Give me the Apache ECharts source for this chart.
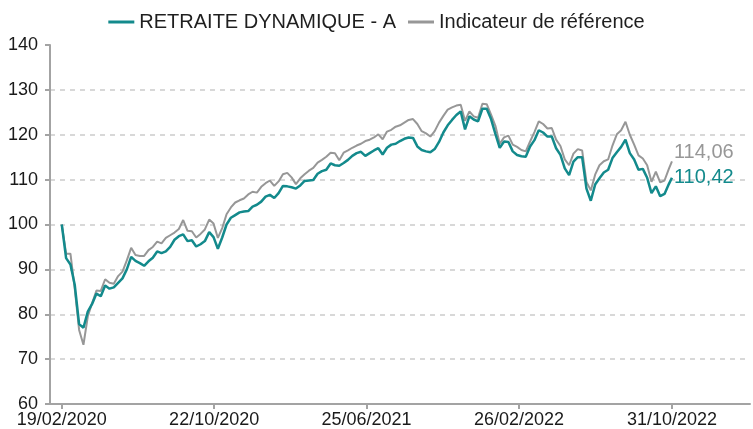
<!DOCTYPE html>
<html><head><meta charset="utf-8">
<script src="https://cdn.jsdelivr.net/npm/echarts@6/dist/echarts.min.js"></script>
<style>html,body{margin:0;padding:0;background:#fff}#c{width:753px;height:429px}</style>
</head><body><div id="c"></div>
<script>
const dates = [
'2020-02-19','2020-02-26','2020-03-04','2020-03-11','2020-03-18','2020-03-25','2020-04-01','2020-04-08','2020-04-15','2020-04-22',
'2020-04-29','2020-05-06','2020-05-13','2020-05-20','2020-05-27','2020-06-03','2020-06-10','2020-06-17','2020-06-24','2020-07-01',
'2020-07-08','2020-07-15','2020-07-22','2020-07-29','2020-08-05','2020-08-12','2020-08-19','2020-08-26','2020-09-02','2020-09-09',
'2020-09-16','2020-09-23','2020-09-30','2020-10-07','2020-10-14','2020-10-21','2020-10-28','2020-11-04','2020-11-11','2020-11-18',
'2020-11-25','2020-12-02','2020-12-09','2020-12-16','2020-12-23','2020-12-30',
'2021-01-06','2021-01-13','2021-01-20','2021-01-27','2021-02-03','2021-02-10','2021-02-17','2021-02-24','2021-03-03','2021-03-10',
'2021-03-17','2021-03-24','2021-03-31','2021-04-07','2021-04-14','2021-04-21','2021-04-28','2021-05-05','2021-05-12','2021-05-19',
'2021-05-26','2021-06-02','2021-06-09','2021-06-16','2021-06-23','2021-06-30','2021-07-07','2021-07-14','2021-07-21','2021-07-28',
'2021-08-04','2021-08-11','2021-08-18','2021-08-25','2021-09-01','2021-09-08','2021-09-15','2021-09-22','2021-09-29','2021-10-06',
'2021-10-13','2021-10-20','2021-10-27','2021-11-03','2021-11-10','2021-11-17','2021-11-24','2021-12-01','2021-12-08','2021-12-15',
'2021-12-22','2021-12-29',
'2022-01-05','2022-01-12','2022-01-19','2022-01-26','2022-02-02','2022-02-09','2022-02-16','2022-02-23','2022-03-02','2022-03-09',
'2022-03-16','2022-03-23','2022-03-30','2022-04-06','2022-04-13','2022-04-20','2022-04-27','2022-05-04','2022-05-11','2022-05-18',
'2022-05-25','2022-06-01','2022-06-08','2022-06-15','2022-06-22','2022-06-29','2022-07-06','2022-07-13','2022-07-20','2022-07-27',
'2022-08-03','2022-08-10','2022-08-17','2022-08-24','2022-08-31','2022-09-07','2022-09-14','2022-09-21','2022-09-28','2022-10-05',
'2022-10-12','2022-10-19','2022-10-26','2022-10-31'
];
const fundValues = [
100, 92.5, 91.1, 86.5, 77.8, 77.0, 80.6, 82.3, 84.6, 84.0, 86.4, 85.7, 86.0, 87.0, 88.0, 90.0, 92.8, 91.9, 91.4, 90.8,
91.8, 92.6, 94.0, 93.6, 94.0, 95.0,
96.6, 97.4, 97.8, 96.3, 96.5, 95.1, 95.6, 96.3, 98.3, 97.2, 94.6, 97.1, 100.0, 101.5, 102.1, 102.7, 102.9, 103.0, 104.0, 104.4,
105.1, 106.2, 106.6, 105.9, 107.0, 108.6, 108.5, 108.3, 108.0, 108.7,
109.7, 109.8, 109.9, 111.3, 111.9, 112.2, 113.6, 113.2, 113.1, 113.7, 114.4, 115.3, 115.9, 116.2, 115.3, 115.9, 116.5, 117.0,
115.6, 117.1, 117.8, 118.0, 118.6, 119.1, 119.4, 119.3, 117.4,
116.6, 116.3, 116.1, 116.8, 118.4, 120.5, 122.1, 123.3, 124.4, 125.2, 121.2, 124.1, 123.4, 123.0, 125.8, 125.8, 123.5, 120.2,
117.1, 118.5, 118.4, 116.3, 115.5, 115.2, 115.1, 117.4, 118.8, 121.0, 120.5, 119.6, 119.6, 117.0,
115.5, 112.5, 111.0, 114.0, 115.0, 115.0, 108.0, 105.3, 108.9, 110.3, 111.6, 112.2, 114.8, 116.1, 117.3, 118.9, 115.9, 114.5,
112.2, 112.4, 110.4, 107.0, 108.5, 106.3, 106.8, 109.0, 110.42
];
const benchValues = [
100, 93.5, 93.5, 85.6, 76.5, 73.2, 79.5, 82.5, 85.3, 85.2, 87.8, 87.0, 86.8, 88.5, 89.5, 92.0, 94.8, 93.2, 93.0, 93.0,
94.3, 95.0, 96.2, 95.8, 97.0, 97.6,
98.2, 99.0, 101.0, 98.6, 98.5, 97.1, 97.9, 98.9, 101.1, 100.2, 97.0, 99.2, 102.3, 103.8, 104.9, 105.4, 105.8, 106.7, 107.3, 107.1,
108.4, 109.2, 109.8, 108.6, 109.6, 111.2, 111.5, 110.5, 109.0, 110.3,
111.2, 112.0, 112.6, 113.8, 114.4, 115.1, 116.0, 115.9, 114.3, 116.0, 116.5, 117.1, 117.6, 118.0, 118.6, 118.9, 119.4, 120.1,
119.0, 120.7, 121.1, 121.8, 122.1, 122.7, 123.3, 123.5, 122.4,
120.8, 120.3, 119.6, 120.8, 122.7, 124.2, 125.6, 126.1, 126.5, 126.7, 123.1, 125.2, 124.1, 123.8, 126.9, 126.8, 124.5, 122.0,
118.0, 119.4, 119.8, 117.8, 117.3, 116.6, 116.3, 118.5, 120.6, 123.0, 122.4, 121.4, 121.5, 118.9,
117.5, 114.5, 113.2, 115.8, 116.8, 116.5, 109.5, 107.6, 111.1, 113.2, 114.1, 114.5, 117.6, 120.1, 121.0, 122.9, 120.0, 117.8,
115.4, 114.7, 113.2, 109.5, 111.8, 109.4, 109.8, 112.4, 114.06
];
const tickDates = ['2020-02-19','2020-10-22','2021-06-25','2022-02-26','2022-10-31'];
const fundName = 'RETRAITE DYNAMIQUE - A';
const benchName = 'Indicateur de référence';

function toTs(s){ const p = s.split('-').map(Number); return Date.UTC(p[0], p[1]-1, p[2]); }
function fmtDate(v){ const d = new Date(v); const p = n => String(n).padStart(2,'0'); return p(d.getUTCDate())+'/'+p(d.getUTCMonth()+1)+'/'+d.getUTCFullYear(); }
function fmtNum(v){ return v.toFixed(2).replace('.', ','); }
const tickTs = tickDates.map(toTs);
const pairs = vals => vals.map((v,i) => [toTs(dates[i]), v]);

const TEAL = '#138a8c', GREY = '#979797', AXIS = '#a3a3a3', FONT = 'Liberation Sans, Arial, sans-serif';
const chart = echarts.init(document.getElementById('c'), null, {renderer:'canvas'});
chart.setOption({
  animation: false,
  textStyle: {fontFamily: FONT},
  legend: {
    data: [fundName, benchName], top: 7, left: 'center', icon: 'rect', itemWidth: 26, itemHeight: 3, itemGap: 12,
    textStyle: {fontSize: 20, color: '#1f1f1f', fontFamily: FONT}
  },
  grid: {left: 50, right: 3, top: 45, bottom: 24},
  xAxis: {
    type: 'value', min: toTs('2020-01-31'), max: toTs('2023-03-06'), scale: true,
    axisLine: {show: true, lineStyle: {color: AXIS, width: 2}},
    axisTick: {show: true, customValues: tickTs, length: 5, lineStyle: {color: AXIS, width: 2}},
    axisLabel: {customValues: tickTs, formatter: fmtDate, fontSize: 18, color: '#1a1a1a', margin: 7, fontFamily: FONT},
    splitLine: {show: false}
  },
  yAxis: {
    type: 'value', min: 60, max: 140, interval: 10,
    axisLine: {show: true, lineStyle: {color: AXIS, width: 2}},
    axisTick: {show: true, length: 5, lineStyle: {color: AXIS, width: 2}},
    axisLabel: {fontSize: 18, color: '#1a1a1a', margin: 12, fontFamily: FONT},
    splitLine: {show: true, showMaxLine: false, lineStyle: {color: '#cccccc', width: 1.5, type: [5, 5]}}
  },
  series: [
    {name: benchName, type: 'line', data: pairs(benchValues), showSymbol: false, color: GREY,
     lineStyle: {width: 2, color: GREY},
     endLabel: {show: true, formatter: p => fmtNum(p.value[1]), color: GREY, fontSize: 20, distance: 2, offset: [0, -9], fontFamily: FONT}},
    {name: fundName, type: 'line', data: pairs(fundValues), showSymbol: false, color: TEAL,
     lineStyle: {width: 2.5, color: TEAL},
     endLabel: {show: true, formatter: p => fmtNum(p.value[1]), color: TEAL, fontSize: 20, distance: 2, fontFamily: FONT}}
  ]
});
</script>
</body></html>
